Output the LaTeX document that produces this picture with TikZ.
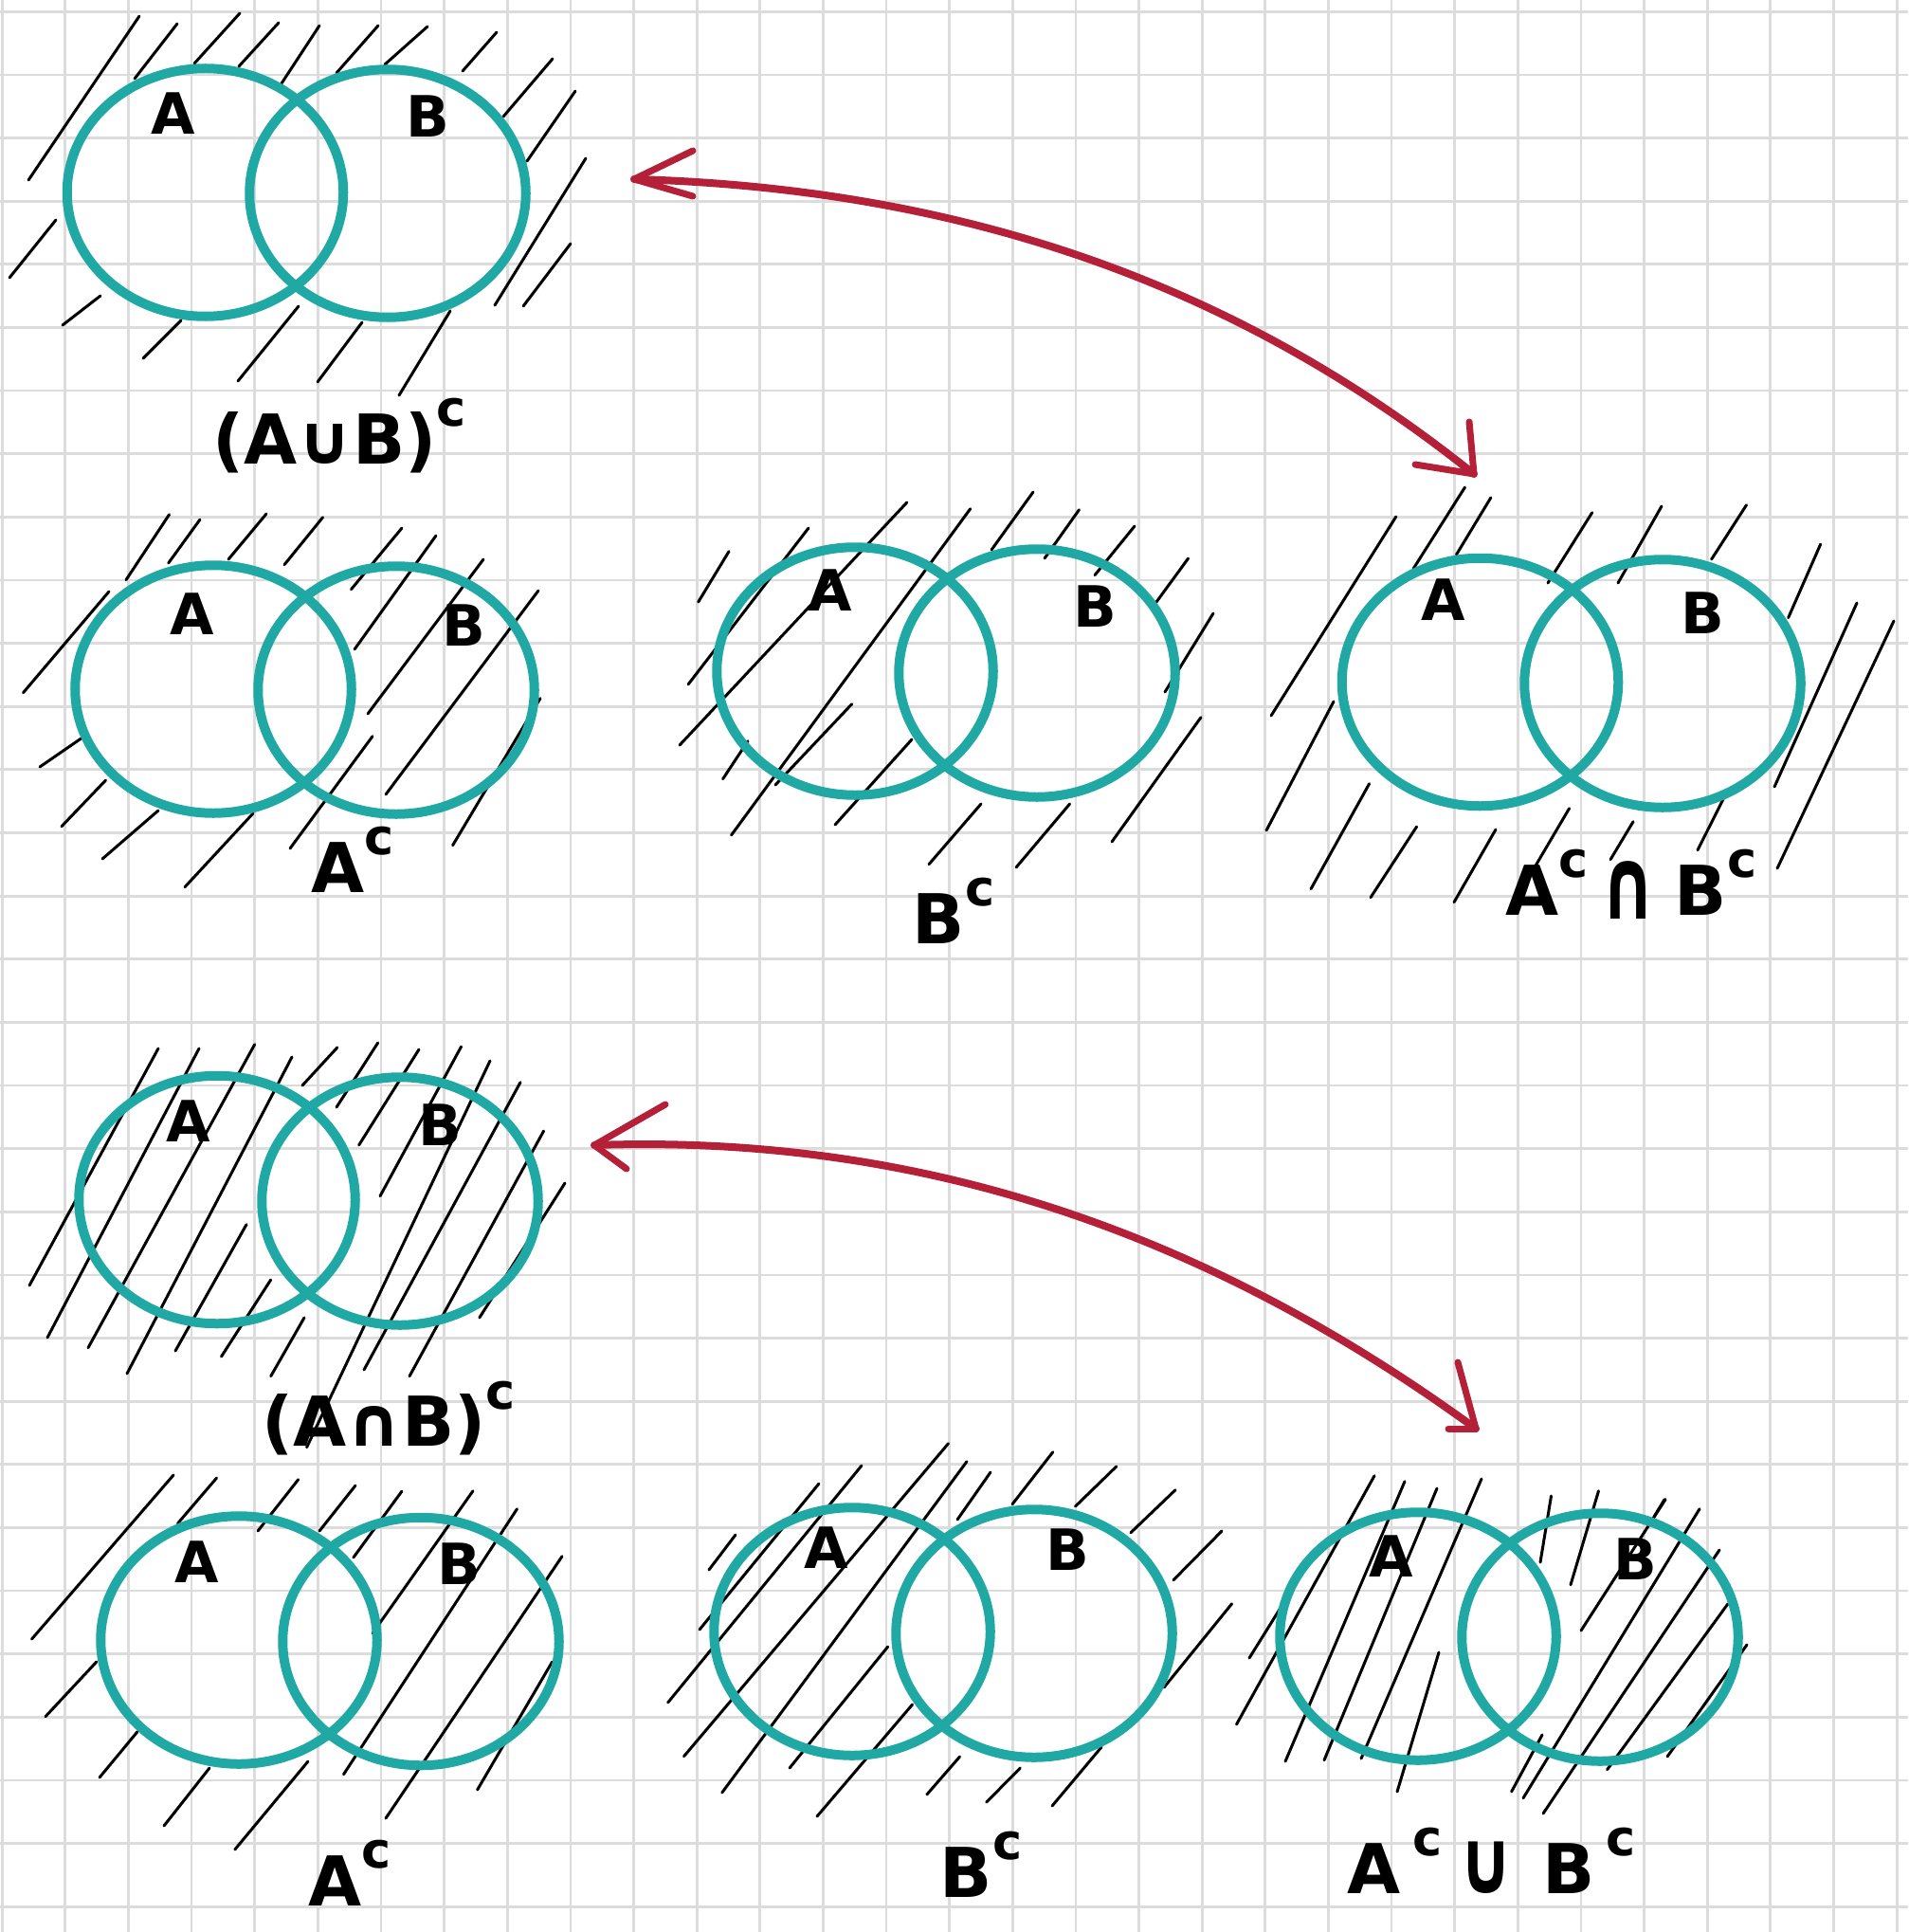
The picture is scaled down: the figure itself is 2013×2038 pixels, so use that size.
\documentclass[tikz,border=0pt]{standalone}
\usepackage{fontspec}
\usetikzlibrary{shapes.geometric}
\newfontfamily\handfont{DejaVu Sans}
\definecolor{gridgray}{RGB}{220,220,220}
\definecolor{ringteal}{RGB}{32,168,165}
\definecolor{arrowred}{RGB}{181,32,57}
\newcommand\supc{\raisebox{0.55em}{\fontsize{21}{21}\selectfont c}}
\tikzset{
  gridline/.style={draw=gridgray, line width=1.1pt},
  ring/.style={ellipse, draw=ringteal, line width=4pt, minimum width=116.6pt, minimum height=104.6pt, inner sep=0pt},
  hatch/.style={draw=black, line width=1.2pt, line cap=round},
  setlbl/.style={font=\handfont\bfseries\fontsize{24}{24}\selectfont, inner sep=0pt},
  biglbl/.style={font=\handfont\bfseries\fontsize{29}{29}\selectfont, inner sep=0pt},
  redarrow/.style={draw=arrowred, line width=3.2pt, line cap=round},
  barb/.style={draw=arrowred, line width=2.8pt, line cap=round}
}
\begin{document}
\begin{tikzpicture}[x=0.4pt, y=-0.4pt]
\fill[white] (0,0) rectangle (2013,2038);
\useasboundingbox (0,0) rectangle (2013,2038);
% grid
\foreach \i in {0,...,30} {
  \draw[gridline] ({2.2+66.63*\i},0) -- ({2.2+66.63*\i},2038);
  \draw[gridline] (0,{12.3+66.63*\i}) -- (2013,{12.3+66.63*\i});
}
% hatching
\foreach \a/\b/\c/\d in {
 30/190/147/17, 142/83/187/25, 205/67/253/14, 252/70/294/24, 297/88/337/27,
 355/77/399/27, 406/68/451/28, 488/75/524/34, 531/123/583/62, 556/170/607/96,
 522/322/618/167, 552/323/602/257, 10/293/59/232, 66/343/106/312, 151/378/191/338,
 251/402/315/323, 335/403/382/340, 421/417/475/328,
 24.5/730.7/115/624, 133/611.7/178.6/542.7, 177.7/594/211/548, 241/590/281/542,
 300/595.7/340.6/545.7, 370.5/621.7/424/557, 374/685/460/565, 388/753/510/590,
 407/838/568/623, 477.6/891.7/570/736.7, 42/809/87/778, 65/871.7/111.6/823,
 108/906/167/855, 195/935.7/267/858, 306/895/393/776.7,
 736.7/635/769/581.7, 726/722/853/557, 717/786/956.8/530, 771.5/881/1023.7/536.7,
 762.6/821.7/789/781.7, 818/828/898.7/742.7, 881/870/962/780, 1046/580/1090/519,
 1102/589/1138.5/537.7, 1155/606.7/1197/555, 1220/635/1253.6/589, 1229/730/1280/647,
 1173/888/1267/756.7, 1072/915/1128.6/848, 980/911.7/1035/848,
 1341/755/1472.8/545, 1491/600/1545.5/514, 1536.5/585/1572.8/525, 1336/876/1407/740,
 1383/937.7/1444.6/826.7, 1446/946.7/1494.6/872, 1534/951.7/1578/875, 1615/921.7/1655.6/852.7,
 1633/615/1679.7/540.7, 1707/615/1753/534, 1805.6/590/1842.5/532.7, 1886.6/651.7/1920.7/574,
 1872/830/1959/636, 1875/916/1998/655, 1791/896.7/1818/843, 1699/906.7/1723/866.7,
 31/1356/167/1106, 50/1411/210/1106, 93/1421.7/268.7/1101.7, 134/1449/308/1115,
 185/1425/260/1291.7, 233.5/1431/285.7/1350, 285.7/1451.7/321/1390, 319/1145/355.8/1105,
 355/1168/398.7/1100, 378.6/1208/442/1107, 401/1261.7/486.6/1104, 323.6/1526.7/517/1119,
 384/1445/549/1141.7, 432/1451.7/573.6/1193, 505.8/1390/596/1248,
 33.5/1729/183/1556, 187.5/1607/228.6/1559, 272/1615/314.7/1560.7, 337/1615/375/1567,
 372.8/1643/424/1573, 393/1723/499/1572.7, 362.5/1871.7/545.5/1591.7, 407/1918/593/1641.7,
 503.6/1888/582.6/1753, 48/1810.7/101.8/1753, 105/1875/145/1826.7, 173/1926/221/1865,
 247.8/1951/325/1858,
 747.9/1656/776/1619, 738/1719/864/1565, 704.6/1796/909/1546, 721.5/1852.7/1000.5/1522.7,
 761.7/1891/1020/1541.7, 833/1865/936.7/1737, 862/1916/962.6/1798, 1010/1603/1045/1553,
 1068/1586.7/1110.8/1531.7, 1134.5/1589/1177.7/1547, 1193/1616.7/1240/1571.7,
 1238/1666.7/1289/1615, 1228/1780/1299.6/1691.7, 1110/1905/1162/1843,
 1040.7/1901/1076.4/1865, 977.8/1893/1012.6/1853,
 1318/1749/1391/1631.7, 1304.5/1819/1450/1556.7, 1356/1858/1482/1562.7, 1397/1856.7/1516/1570,
 1436/1855/1563/1560, 1474/1890/1518/1743, 1625/1648/1636.5/1578, 1657/1671.7/1686.5/1572.7,
 1668/1720/1757/1581.7, 1607/1896.7/1793/1591.7, 1628/1913/1814/1635, 1695.6/1866.7/1823/1691.7,
 1759/1853/1843/1735, 1594.6/1890/1627/1830, 1745/1600/1756/1581.7}
 \draw[hatch] (\a,\b) -- (\c,\d);
% circles
\node[ring] (d1A) at (216.5,203) {};   \node[ring] (d1B) at (409,204) {};
\node[ring] (d2A) at (225,727) {};     \node[ring] (d2B) at (418,728) {};
\node[ring] (d3A) at (902,708) {};     \node[ring] (d3B) at (1094,710) {};
\node[ring] (d4A) at (1561.5,719.5) {};\node[ring] (d4B) at (1754,721) {};
\node[ring] (d5A) at (229,1265.5) {};  \node[ring] (d5B) at (422,1267) {};
\node[ring] (d6A) at (252,1730) {};    \node[ring] (d6B) at (444,1731.5) {};
\node[ring] (d7A) at (899,1721) {};    \node[ring] (d7B) at (1091,1723) {};
\node[ring] (d8A) at (1496,1726) {};   \node[ring] (d8B) at (1688,1727) {};
% set letters
\node[setlbl] (t1A) at (183,120) {A};   \node[setlbl] (t1B) at (451,123) {B};
\node[setlbl] (t2A) at (203,648) {A};   \node[setlbl] (t2B) at (489,660) {B};
\node[setlbl] (t3A) at (876,623) {A};   \node[setlbl] (t3B) at (1155,640) {B};
\node[setlbl] (t4A) at (1523,633) {A};  \node[setlbl] (t4B) at (1796,647) {B};
\node[setlbl] (t5A) at (199,1183) {A};  \node[setlbl] (t5B) at (464,1187) {B};
\node[setlbl] (t6A) at (208,1648) {A};  \node[setlbl] (t6B) at (484,1650) {B};
\node[setlbl] (t7A) at (872,1633) {A};  \node[setlbl] (t7B) at (1126,1635) {B};
\node[setlbl] (t8A) at (1468,1642) {A}; \node[setlbl] (t8B) at (1725,1645) {B};
% captions
\node[biglbl] (c1) at (358,460) {(A∪B)\supc};
\node[biglbl] (c2) at (372,907) {A\supc};
\node[biglbl] (c3) at (1006,961) {B\supc};
\node[biglbl] (c4) at (1721,933) {A\supc\,\raisebox{-0.05em}{\scalebox{1}[1.45]{∩}}\hspace{8pt}B\supc};
\node[biglbl] (c5) at (410,1496) {(A∩B)\supc};
\node[biglbl] (c6) at (369,1976) {A\supc};
\node[biglbl] (c7) at (1035,1967) {B\supc};
\node[biglbl] (c8) at (1574,1963) {A\,\supc\hspace{7pt}\scalebox{1}[1.3]{∪}\hspace{12pt}B\,\supc};
% arrows
\coordinate (a1s) at (669,189);
\coordinate (a1e) at (1555,500);
\draw[redarrow] (a1s) .. controls (1050,200) and (1330,320) .. (a1e);
\draw[barb] (a1s) -- +(62,-30);
\draw[barb] (a1s) -- +(62,18);
\draw[barb] (a1e) -- +(-5,-55);
\draw[barb] (a1e) -- +(-62,-10);
\coordinate (a2s) at (627,1208);
\coordinate (a2e) at (1557,1507);
\draw[redarrow] (a2s) .. controls (1000,1195) and (1300,1320) .. (a2e);
\draw[barb] (a2s) -- +(75,-43);
\draw[barb] (a2s) -- +(34,25);
\draw[barb] (a2e) -- +(-19,-70);
\draw[barb] (a2e) -- +(-29,0);
\end{tikzpicture}
\end{document}
